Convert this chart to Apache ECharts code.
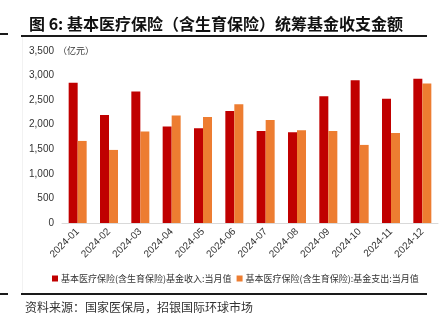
<!DOCTYPE html>
<html>
<head>
<meta charset="utf-8">
<script src="https://cdn.jsdelivr.net/npm/echarts@6/dist/echarts.min.js"></script>
<style>
  html, body { margin: 0; padding: 0; background: #fff; }
  #chart { width: 445px; height: 326px; }
</style>
</head>
<body>
<div id="chart"></div>
<script>
// Monthly pooled fund income and expenditure, 100 million yuan
const months = ['2024-01', '2024-02', '2024-03', '2024-04', '2024-05', '2024-06',
                '2024-07', '2024-08', '2024-09', '2024-10', '2024-11', '2024-12'];
const incomeName = '基本医疗保险(含生育保险)基金收入:当月值';
const expenseName = '基本医疗保险(含生育保险):基金支出:当月值';
const income  = [2852, 2200, 2675, 1962, 1928, 2281, 1874, 1847, 2580, 2906, 2526, 2933];
const expense = [1670, 1487, 1860, 2186, 2159, 2417, 2098, 1888, 1874, 1589, 1833, 2838];
const yTicks = { min: 0, max: 3500, interval: 500 };
const unitLabel = '（亿元）';

const CJK = '"Noto Sans CJK SC", "Noto Sans", sans-serif';
const LATIN = '"Liberation Sans", Arial, sans-serif';

const chart = echarts.init(document.getElementById('chart'), null, { renderer: 'canvas' });

chart.setOption({
  animation: false,
  backgroundColor: '#fff',
  title: {
    text: '图 6: 基本医疗保险（含生育保险）统筹基金收支金额',
    left: 24,
    top: 11,
    textStyle: { fontFamily: CJK, fontSize: 16, fontWeight: 'bold', color: '#111' }
  },
  legend: {
    left: 47,
    top: 269,
    itemWidth: 6,
    itemHeight: 6,
    itemGap: 5,
    icon: 'rect',
    textStyle: { fontFamily: CJK, fontSize: 9, color: '#333', padding: [0, 0, 0, -2] },
    data: [incomeName, expenseName]
  },
  grid: { left: 62, right: 7, top: 51, bottom: 103 },
  xAxis: {
    type: 'category',
    data: months,
    axisLine: { lineStyle: { color: '#d9d9d9', width: 1 } },
    axisTick: { show: false },
    axisLabel: {
      rotate: 45,
      margin: 7,
      fontFamily: LATIN,
      fontSize: 10,
      color: '#333',
      interval: 0
    }
  },
  yAxis: {
    type: 'value',
    min: yTicks.min,
    max: yTicks.max,
    interval: yTicks.interval,
    splitLine: { show: false },
    axisLine: { show: false },
    axisTick: { show: false },
    axisLabel: {
      margin: 8,
      fontFamily: LATIN,
      fontSize: 10,
      color: '#333',
      formatter: v => v.toLocaleString('en-US')
    }
  },
  series: [
    {
      name: incomeName,
      type: 'bar',
      data: income,
      barWidth: 9,
      barGap: '0%',
      itemStyle: { color: '#C00000' }
    },
    {
      name: expenseName,
      type: 'bar',
      data: expense,
      barWidth: 9,
      barGap: '0%',
      itemStyle: { color: '#ED7D31' }
    }
  ],
  graphic: [
    // rule under the heading
    { type: 'rect', shape: { x: 21, y: 35, width: 406, height: 2 }, style: { fill: '#1a1a1a' } },
    { type: 'rect', shape: { x: 0, y: 33, width: 8, height: 2 }, style: { fill: '#1a1a1a' } },
    // faint frame edge on the left
    { type: 'rect', shape: { x: 22, y: 37, width: 1, height: 256 }, style: { fill: '#f2f2f2' } },
    // unit next to the top tick
    {
      type: 'text',
      x: 58,
      y: 51,
      style: {
        text: unitLabel,
        font: '9px "Noto Sans CJK SC", sans-serif',
        fill: '#333',
        verticalAlign: 'middle',
        align: 'left'
      }
    },
    // rule above the source note
    { type: 'rect', shape: { x: 21, y: 293, width: 406, height: 2 }, style: { fill: '#1a1a1a' } },
    { type: 'rect', shape: { x: 0, y: 293, width: 8, height: 2 }, style: { fill: '#1a1a1a' } },
    {
      type: 'text',
      left: 25,
      top: 301,
      style: {
        text: '资料来源：国家医保局，招银国际环球市场',
        font: '12px "Noto Sans CJK SC", sans-serif',
        fill: '#333'
      }
    }
  ]
});
</script>
</body>
</html>
